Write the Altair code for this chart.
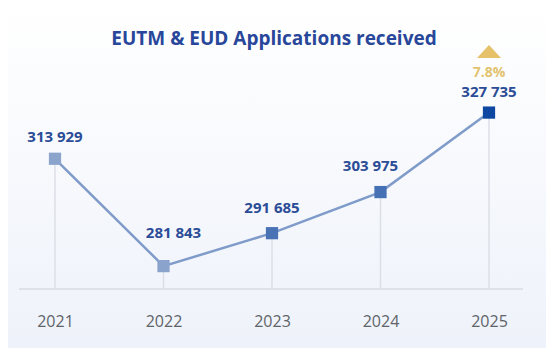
import altair as alt
import pandas as pd

# ---- data ----
years = [2021, 2022, 2023, 2024, 2025]
applications = [313929, 281843, 291685, 303975, 327735]
change_label = "7.8%"
title_text = "EUTM & EUD Applications received"

# ---- styles ----
point_colors = ["#8ba4cc", "#8aa3cc", "#4a73b6", "#4570b4", "#0d47a1"]
label_offsets = {2021: (0, -17), 2022: (10, -28), 2023: (0, -20),
                 2024: (-10, -21), 2025: (0, -16)}
FONT = "Open Sans"
W, H = 434, 184
Y_MIN, Y_MAX = 275000, 330000

df = pd.DataFrame({
    "year": years,
    "value": applications,
    "label": [f"{v:,}".replace(",", " ") for v in applications],
})
one = pd.DataFrame({"t": [title_text], "c": [change_label]})

x_enc = alt.X("year:Q", scale=alt.Scale(domain=[years[0], years[-1]], nice=False, zero=False),
              axis=alt.Axis(title=None, domain=False, ticks=False, grid=False,
                            values=years, format="d", zindex=2,
                            labelAngle=0, labelFont=FONT, labelFontSize=16,
                            labelColor="#606368", labelPadding=37,
                            labelBaseline="alphabetic", labelFlush=False))
y_enc = alt.Y("value:Q", scale=alt.Scale(domain=[Y_MIN, Y_MAX], nice=False, zero=False),
              axis=None)

base = alt.Chart(df)

bg = alt.Chart(one).mark_rect(
    color=alt.LinearGradient(gradient="linear",
                             stops=[alt.GradientStop(color="#ffffff", offset=0),
                                    alt.GradientStop(color="#eef2fa", offset=1)],
                             x1=0, x2=0, y1=0, y2=1)
).encode(x=alt.value(-47), x2=alt.value(W + 57), y=alt.value(-97), y2=alt.value(H + 59))

title = alt.Chart(one).mark_text(
    font=FONT, fontSize=19, fontWeight="bold", color="#28479a",
    align="center", baseline="alphabetic"
).encode(text="t:N", x=alt.value(219), y=alt.value(-60))

baseline = alt.Chart(one).mark_rule(color="#dde1ea", strokeWidth=2).encode(
    x=alt.value(-36), x2=alt.value(W + 34), y=alt.value(H))

vrules = base.mark_rule(color="#dcdfe7", strokeWidth=1.5).encode(
    x=x_enc, y=y_enc, y2=alt.datum(Y_MIN))

line = base.mark_line(color="#7f9bc9", strokeWidth=2.5).encode(x=x_enc, y=y_enc)

points = base.mark_point(shape="square", filled=True, size=150, opacity=1).encode(
    x=x_enc, y=y_enc,
    color=alt.Color("year:O", scale=alt.Scale(domain=years, range=point_colors), legend=None))

label_layers = []
for yr in years:
    dx, dy = label_offsets[yr]
    label_layers.append(
        base.transform_filter(alt.datum.year == yr).mark_text(
            font=FONT, fontSize=15, fontWeight="bold", color="#2b4c96",
            align="center", baseline="alphabetic", dx=dx, dy=dy
        ).encode(x=x_enc, y=y_enc, text="label:N"))

last = base.transform_filter(alt.datum.year == years[-1])
pct = last.mark_text(font=FONT, fontSize=14, fontWeight="bold", color="#e2c36e",
                     align="center", baseline="alphabetic", dy=-36).encode(
    x=x_enc, y=y_enc, text=alt.value(change_label))
tri = last.mark_point(shape="M-1,0.54L1,0.54L0,-0.54Z", filled=True, size=576,
                      opacity=1, color="#e5c26a", yOffset=-61).encode(x=x_enc, y=y_enc)

chart = alt.layer(bg, title, baseline, vrules, line, points, *label_layers, pct, tri).properties(
    width=W, height=H,
    autosize=alt.AutoSizeParams(type="none"),
    padding={"left": 47, "top": 97, "right": 57, "bottom": 59},
    background="#f6f8fc",
).configure_view(stroke=None)

chart.save("out.html", embed_options={"renderer": "svg", "actions": False})
